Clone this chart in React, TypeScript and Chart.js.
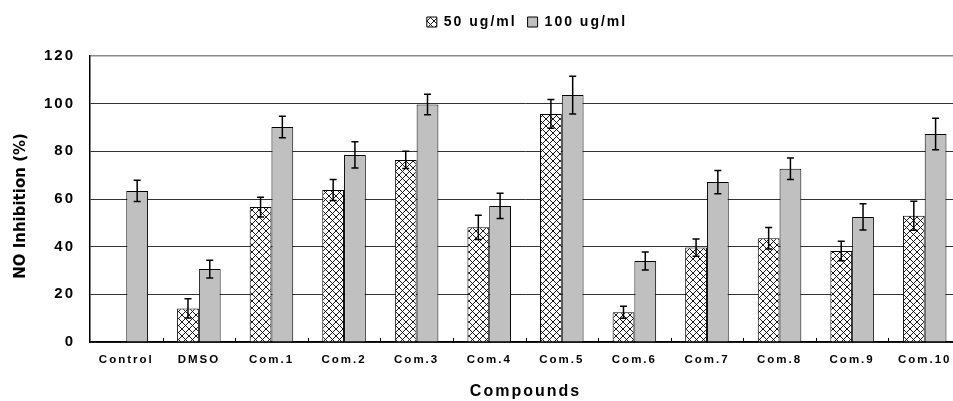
import React, { useEffect, useRef } from "react";
import { Chart, registerables } from "chart.js";

Chart.register(...registerables);

const categories = ["Control", "DMSO", "Com.1", "Com.2", "Com.3", "Com.4", "Com.5", "Com.6", "Com.7", "Com.8", "Com.9", "Com.10"];
const series50Label = "50 ug/ml";
const series100Label = "100 ug/ml";
const values50 = [null, 14.1, 56.6, 63.8, 76.4, 48.1, 95.7, 12.5, 39.6, 43.5, 38.2, 53.0];
const errors50 = [null, 4.0, 4.1, 4.4, 3.6, 5.1, 6.0, 2.5, 3.6, 4.5, 4.1, 6.1];
const values100 = [63.4, 30.6, 90.2, 78.5, 99.6, 57.1, 103.6, 34.0, 67.1, 72.7, 52.5, 87.3];
const errors100 = [4.5, 3.7, 4.5, 5.5, 4.3, 5.3, 7.9, 3.8, 4.9, 4.5, 5.5, 6.6];
const yTicks = [0, 20, 40, 60, 80, 100, 120];
const yTitle = "NO Inhibition (%)";
const xTitle = "Compounds";

const FONT = "'Liberation Sans', Arial, sans-serif";

function makeHatch(): CanvasPattern | string {
  const t = document.createElement("canvas");
  t.width = 7;
  t.height = 7;
  const c = t.getContext("2d");
  if (!c) return "#fff";
  c.fillStyle = "#ffffff";
  c.fillRect(0, 0, 7, 7);
  c.strokeStyle = "#000000";
  c.lineWidth = 0.9;
  c.beginPath();
  c.moveTo(-1, -1);
  c.lineTo(8, 8);
  c.moveTo(8, -1);
  c.lineTo(-1, 8);
  c.stroke();
  const p = c.createPattern(t, "repeat");
  return p || "#fff";
}

export default function App() {
  const ref = useRef<HTMLCanvasElement | null>(null);

  useEffect(() => {
    if (!ref.current) return;
    const hatch = makeHatch();
    const errs = [errors50, errors100];

    const spacingPlugin = {
      id: "spacing",
      beforeLayout(c: any) {
        c.ctx.letterSpacing = "2px";
      },
      beforeDraw(c: any) {
        c.ctx.letterSpacing = "2px";
      },
    };

    const extrasPlugin = {
      id: "extras",
      afterDatasetsDraw(c: any) {
        const ctx = c.ctx;
        const ys = c.scales.y;
        const xs = c.scales.x;
        const area = c.chartArea;
        ctx.save();
        // category boundary tick marks
        ctx.strokeStyle = "#000";
        ctx.lineWidth = 1;
        for (let i = 1; i < categories.length; i++) {
          const x = Math.round(xs.getPixelForValue(i - 0.5)) + 0.5;
          ctx.beginPath();
          ctx.moveTo(x, area.bottom);
          ctx.lineTo(x, area.bottom - 4);
          ctx.stroke();
        }
        // error bars
        ctx.lineWidth = 1.5;
        c.data.datasets.forEach((ds: any, di: number) => {
          const meta = c.getDatasetMeta(di);
          meta.data.forEach((el: any, j: number) => {
            const v = ds.data[j];
            const e = errs[di][j];
            if (v == null || e == null) return;
            const x = el.x;
            const t = ys.getPixelForValue(v + e);
            const b = ys.getPixelForValue(v - e);
            ctx.beginPath();
            ctx.moveTo(x, t);
            ctx.lineTo(x, b);
            ctx.moveTo(x - 3.5, t);
            ctx.lineTo(x + 3.5, t);
            ctx.moveTo(x - 3.5, b);
            ctx.lineTo(x + 3.5, b);
            ctx.stroke();
          });
        });
        ctx.restore();
      },
      afterDraw(c: any) {
        const ctx = c.ctx;
        const area = c.chartArea;
        ctx.save();
        ctx.letterSpacing = "0px";
        ctx.fillStyle = "#000";
        ctx.font = `bold 15px 'DejaVu Sans', sans-serif`;
        ctx.textAlign = "center";
        ctx.textBaseline = "middle";
        ctx.translate(area.left - 69, (area.top + area.bottom) / 2 + 7);
        ctx.rotate(-Math.PI / 2);
        ctx.fillText(yTitle, 0, 0);
        ctx.restore();
      },
    };

    const chart = new Chart(ref.current, {
      type: "bar",
      data: {
        labels: categories,
        datasets: [
          {
            label: series50Label,
            data: values50 as any,
            backgroundColor: hatch as any,
            borderColor: "#000",
            borderWidth: 1,
            categoryPercentage: 0.6,
            barPercentage: 1.0,
          },
          {
            label: series100Label,
            data: values100,
            backgroundColor: "#C0C0C0",
            borderColor: "#000",
            borderWidth: 1,
            categoryPercentage: 0.6,
            barPercentage: 1.0,
          },
        ],
      },
      options: {
        responsive: false,
        animation: false,
        layout: { padding: { top: 4, left: 0, right: 0, bottom: 0 } },
        plugins: {
          legend: {
            display: true,
            position: "top",
            labels: {
              boxWidth: 10,
              boxHeight: 10,
              padding: 11,
              color: "#000",
              font: { family: FONT, size: 14, weight: "bold" },
            },
          },
          tooltip: { enabled: false },
        },
        scales: {
          x: {
            type: "category",
            position: "bottom",
            grid: { display: true, drawOnChartArea: false, drawTicks: false },
            border: { display: true, color: "#000", width: 1.5 },
            ticks: {
              color: "#000",
              padding: 11,
              maxRotation: 0,
              autoSkip: false,
              font: { family: FONT, size: 11.5, weight: "bold" },
            },
            title: {
              display: true,
              text: xTitle,
              color: "#000",
              padding: { top: 0, bottom: 0 },
              font: { family: FONT, size: 16, weight: "bold" },
            },
            afterFit(s: any) {
              s.height = 59;
            },
          },
          xTop: {
            type: "linear",
            position: "top",
            display: true,
            grid: { display: false },
            border: { display: false },
            ticks: { display: false },
            afterFit(s: any) {
              s.height = 17;
            },
          },
          y: {
            type: "linear",
            position: "left",
            min: 0,
            max: 120,
            afterBuildTicks(s: any) {
              s.ticks = yTicks.map((v) => ({ value: v }));
            },
            grid: {
              display: true,
              drawTicks: false,
              color: (ctx: any) => (ctx.tick && ctx.tick.value === 120 ? "#8a8a8a" : "#333"),
              lineWidth: (ctx: any) => (ctx.tick && ctx.tick.value === 120 ? 1.6 : 1),
            },
            border: { display: true, color: "#000", width: 1.5 },
            ticks: {
              color: "#000",
              padding: 15,
              font: { family: FONT, size: 15, weight: "bold" },
            },
            afterFit(s: any) {
              s.width = 90;
            },
          },
          yRight: {
            type: "linear",
            position: "right",
            display: true,
            grid: { display: false },
            border: { display: false },
            ticks: { display: false },
            afterFit(s: any) {
              s.width = 93;
            },
          },
        },
      },
      plugins: [spacingPlugin, extrasPlugin],
    });

    return () => chart.destroy();
  }, []);

  return (
    <div style={{ position: "absolute", left: 0, top: 0, width: 953, height: 401, overflow: "hidden", background: "#fff" }}>
      <canvas ref={ref} width={1054} height={401} style={{ display: "block", width: 1054, height: 401 }} />
    </div>
  );
}
